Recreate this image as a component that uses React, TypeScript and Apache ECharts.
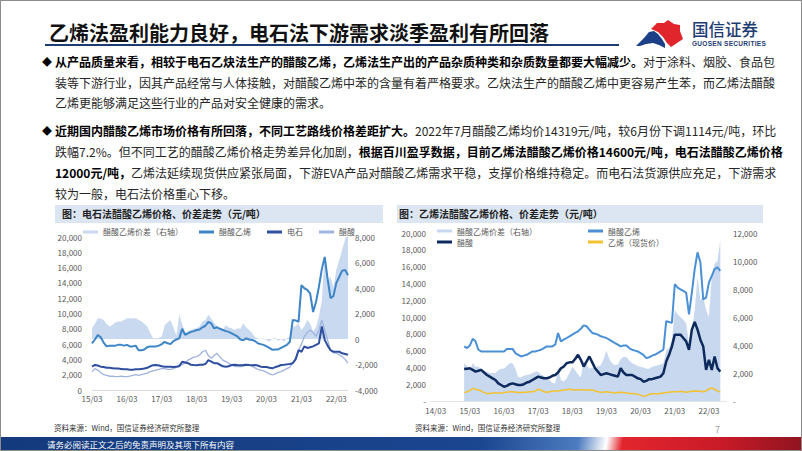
import React, { useEffect, useRef } from 'react';
import * as echarts from 'echarts';

const FONT = '"Noto Sans CJK SC", "Noto Sans", sans-serif';

function monthRange(start: string, end: string): string[] {
  const out: string[] = [];
  let [y, m] = start.split('-').map(Number);
  const [ey, em] = end.split('-').map(Number);
  while (y < ey || (y === ey && m <= em)) {
    out.push(`${y}-${String(m).padStart(2, '0')}`);
    m += 1;
    if (m > 12) { m = 1; y += 1; }
  }
  return out;
}

// ---------- Left chart (电石法) : monthly 2015-03 .. 2022-07 ----------
const leftMonths = monthRange('2015-03', '2022-07');
const leftNames = ['醋酸乙烯价差（右轴）', '醋酸乙烯', '电石', '醋酸'];
const leftSpread = [
  840, 1200, 1630, 1600, 1500, 1200, 975, 1100, 1300, 1370,
  1370, 1500, 1630, 1630, 1600, 1630, 1500, 1400, 1200, 975, 500, 50,
  50, 100, 200, 1100, 1300, 1500, 900, 260, 1900, 1200, 500, 600,
  700, 800, 840, 1000, 1370, 1500, 1900, 1600, 1240, 1000, 800, 700,
  1100, 900, 840, 700, 840, 800, 1240, 900, 700, 500, 130, 50,
  0, 50, -100, -200, 0, 100, -150, 0, -200, 50, 130, 975,
  1000, 1240, 700, 1000, 1500, 1200, 600, 900, 1770, 3000, 6600, 4500,
  4900, 4000, 5450, 6200, 7000, 7800, 8500,
];
const leftVac = [
  6100, 6600, 7200, 6900, 6200, 5700, 5800, 5800, 5800, 5900,
  5900, 5800, 5900, 5700, 5700, 5800, 5200, 5200, 5300, 5600, 5700, 5700,
  5700, 5800, 6000, 6300, 6100, 6000, 6400, 6600, 6750, 8000, 7200, 7400,
  7600, 7700, 7850, 7900, 8200, 8400, 8900, 8700, 8050, 8200, 8000, 7850,
  7700, 7600, 7400, 7200, 7000, 6600, 6500, 6750, 6600, 6550, 6400, 6100,
  6000, 5900, 5700, 5500, 5250, 5300, 5300, 5500, 5700, 5900, 6300, 9150,
  9100, 8900, 13700, 13300, 13100, 12600, 10200, 11500, 13500, 15800, 17400, 14500,
  12000, 12300, 14000, 14800, 15600, 15700, 15000,
];
const leftCarbide = [
  3050, 3270, 3200, 3050, 3000, 2900, 2900, 2850, 2800, 2800,
  2750, 2700, 2700, 2650, 2650, 2700, 2700, 2750, 2800, 2900, 3100, 3250,
  3270, 3200, 3100, 3050, 3050, 3050, 3000, 3050, 3100, 3700, 3600, 3500,
  3300, 3270, 3250, 3300, 3300, 3400, 3900, 3700, 3500, 3500, 3300, 3100,
  3050, 3100, 3270, 3300, 3270, 3250, 3270, 3300, 3270, 3250, 3270, 3200,
  3050, 3000, 3000, 2900, 2830, 3000, 3100, 3270, 3300, 3350, 3400, 3500,
  4000, 5200, 5000, 5700, 5500, 5600, 5700, 5900, 6100, 8300, 6550, 5800,
  5200, 5000, 5000, 5000, 4800, 4700, 4600,
];
const leftAcetic = [
  2400, 2800, 2600, 2300, 2000, 1900, 1800, 1800, 1750, 1750,
  1800, 1750, 1750, 1800, 1900, 2000, 1900, 2000, 2100, 2200, 2400, 2500,
  2600, 2700, 2830, 2800, 2700, 2700, 2800, 3000, 3270, 3300, 3600, 3900,
  4100, 4300, 4360, 4600, 5000, 5200, 4500, 4140, 4500, 4800, 4300, 3900,
  3700, 3500, 3270, 3100, 3050, 3050, 3100, 3270, 3270, 3100, 2900, 2700,
  2600, 2500, 2300, 2100, 1960, 2100, 2300, 2400, 2600, 2800, 3000, 3500,
  4200, 5200, 6000, 7000, 7500, 7850, 7500, 7000, 7800, 9150, 7850, 6500,
  5200, 4900, 4800, 4600, 4360, 4000, 3500,
];

// ---------- Right chart (乙烯法) : axis 2014-01 .. 2022-09, data 2015-01 .. 2022-07 ----------
const rightMonths = monthRange('2014-01', '2022-09');
const rightDataStart = '2015-01';
const rightNames = ['醋酸乙烯价差（右轴）', '醋酸', '醋酸乙烯', '乙烯（现货价）'];
const rightSpread = [
  2700, 2500, 2200, 2700, 2450, 2450, 2300, 2100, 2100, 2000, 2000, 2000,
  2200, 2300, 2300, 2500, 2700, 2700, 2300, 1700, 1700, 1800, 1850, 1900,
  2000, 2100, 2100, 1900, 1800, 1600, 1500, 1300, 1250, 2400, 1500, 1400,
  1600, 2000, 2450, 2200, 1900, 1700, 2900, 2600, 2300, 2400, 2300, 2500,
  2550, 3000, 3600, 3000, 2700, 2550, 2600, 3000, 3150, 3150, 2900, 2700,
  2600, 2500, 2450, 2400, 2300, 2300, 2450, 2500, 2550, 2600, 2700, 3600,
  3800, 4350, 6500, 6200, 6000, 5800, 5550, 4100, 5050, 6500, 8900, 7200,
  7450, 6500, 6000, 8900, 9800, 10000, 11500,
];
const rightVac = [
  6500, 6300, 6600, 7400, 7100, 6100, 5900, 5900, 5900, 5900, 5900, 5900,
  5900, 5900, 5900, 6200, 6200, 6200, 5700, 5500, 5300, 5400, 5500, 5700,
  5900, 5900, 6000, 6100, 6300, 6500, 6500, 6500, 6700, 8100, 7100, 7300,
  7500, 7700, 7900, 8100, 8300, 8600, 9000, 8900, 8500, 8100, 8000, 7900,
  7700, 7600, 7500, 7300, 7100, 6900, 6700, 6500, 6600, 6600, 6300, 6100,
  6000, 5900, 5700, 5500, 5100, 5200, 5400, 5500, 5700, 5900, 6100, 9500,
  9400, 9300, 13900, 13500, 13300, 13100, 12900, 10300, 12900, 15700, 17700, 16500,
  12100, 12300, 14100, 14900, 15700, 15900, 15500,
];
const rightAcetic = [
  3800, 3850, 3900, 3700, 3500, 3600, 3700, 3400, 3100, 2900, 2700, 2500,
  2100, 1900, 1700, 1800, 2000, 2100, 2000, 1900, 1900, 2000, 2200, 2300,
  2500, 2700, 2900, 2800, 2700, 2700, 2800, 3000, 3100, 3400, 3900, 4100,
  4500, 4600, 4600, 5000, 5500, 4900, 4100, 4700, 5300, 4600, 3900, 3500,
  3100, 3200, 3300, 3200, 3100, 3000, 2900, 3900, 3400, 3100, 3100, 3100,
  2900, 2700, 2600, 2300, 2400, 2600, 2600, 2700, 2800, 2900, 3300, 4700,
  5500, 6500, 7900, 7900, 7900, 7500, 7100, 6100, 8500, 9400, 8500, 7300,
  6500, 3700, 4900, 3700, 5300, 3900, 3500,
];
const rightEthylene = [
  1000, 1100, 1230, 1500, 1400, 1300, 1200, 1000, 900, 900, 950, 950,
  950, 950, 1000, 1050, 1100, 1100, 1050, 1000, 1000, 1050, 1050, 1100,
  1100, 1200, 1400, 1300, 1100, 1050, 1100, 1150, 1200, 1200, 1250, 1300,
  1350, 1400, 1350, 1300, 1350, 1350, 1300, 1300, 1350, 1300, 1200, 1100,
  1050, 1050, 1100, 1050, 1000, 950, 1000, 1050, 1000, 950, 900, 900,
  850, 800, 700, 550, 600, 800, 850, 850, 850, 900, 950, 1000,
  1050, 1100, 1100, 1100, 1150, 1100, 1050, 1100, 1150, 1200, 1150, 1150,
  1100, 1200, 1450, 1550, 1400, 1200, 1050,
];

function alignRight(values: number[]): (number | null)[] {
  const startIdx = rightMonths.indexOf(rightDataStart);
  const out: (number | null)[] = rightMonths.map(() => null);
  values.forEach((v, i) => { out[startIdx + i] = v; });
  return out;
}

const LABEL_COLOR = '#595959';
const fmt = (zeroText: string) => (v: number) => (v === 0 ? zeroText : v.toLocaleString('en-US'));
const xLabel = {
  interval: (_i: number, v: string) => v.endsWith('-03'),
  formatter: (v: string) => `${v.slice(2, 4)}/${v.slice(5)}`,
  fontSize: 8,
  color: LABEL_COLOR,
  fontFamily: FONT,
};

const leftOption = {
  animation: false,
  textStyle: { fontFamily: FONT },
  grid: { left: 92, right: 52, top: 37, bottom: 40 },
  legend: {
    left: 83, top: 28, padding: 0, itemWidth: 15, itemHeight: 3, itemGap: 16, icon: 'rect',
    textStyle: { fontSize: 8, color: LABEL_COLOR, fontFamily: FONT },
    data: leftNames,
  },
  xAxis: {
    type: 'category', data: leftMonths, boundaryGap: false,
    axisLine: { lineStyle: { color: '#d9d9d9' } }, axisTick: { show: false },
    axisLabel: { ...xLabel, margin: 4 },
  },
  yAxis: [
    { type: 'value', min: 0, max: 20000, interval: 2000, splitLine: { show: false },
      axisLine: { show: false }, axisTick: { show: false },
      axisLabel: { formatter: fmt('0'), fontSize: 8, color: LABEL_COLOR, margin: 10, fontFamily: FONT } },
    { type: 'value', min: -4000, max: 8000, interval: 2000, position: 'right', splitLine: { show: false },
      axisLine: { show: false }, axisTick: { show: false },
      axisLabel: { formatter: fmt('0'), fontSize: 8, color: LABEL_COLOR, margin: 7, fontFamily: FONT } },
  ],
  series: [
    { name: leftNames[0], type: 'line', yAxisIndex: 1, data: leftSpread, symbol: 'none',
      itemStyle: { color: '#c9d9ef' }, lineStyle: { width: 0, color: '#c9d9ef' }, areaStyle: { color: '#c9d9ef', opacity: 1 } },
    { name: leftNames[3], type: 'line', data: leftAcetic, symbol: 'none',
      itemStyle: { color: '#9fb3de' }, lineStyle: { width: 1.3, color: '#9fb3de' } },
    { name: leftNames[2], type: 'line', data: leftCarbide, symbol: 'none',
      itemStyle: { color: '#2e4f9e' }, lineStyle: { width: 2, color: '#2e4f9e' } },
    { name: leftNames[1], type: 'line', data: leftVac, symbol: 'none',
      itemStyle: { color: '#3d85c6' }, lineStyle: { width: 2, color: '#3d85c6' } },
  ],
};

const legendCommon = {
  padding: 0, orient: 'vertical', itemWidth: 15, itemHeight: 3, itemGap: 1, icon: 'rect',
  textStyle: { fontSize: 8, lineHeight: 10, color: LABEL_COLOR, fontFamily: FONT },
};

const rightOption = {
  animation: false,
  textStyle: { fontFamily: FONT },
  grid: { left: 35, right: 76, top: 33, bottom: 29 },
  legend: [
    { ...legendCommon, left: 42, top: 26, data: [rightNames[0], rightNames[1]] },
    { ...legendCommon, left: 193, top: 26, data: [rightNames[2], rightNames[3]] },
  ],
  xAxis: {
    type: 'category', data: rightMonths, boundaryGap: false,
    axisLine: { lineStyle: { color: '#e3e3e3' } }, axisTick: { show: false },
    axisLabel: { ...xLabel, margin: 5 },
  },
  yAxis: [
    { type: 'value', min: 0, max: 20000, interval: 2000, splitLine: { show: false },
      axisLine: { show: false }, axisTick: { show: false },
      axisLabel: { formatter: fmt('-'), fontSize: 8, color: LABEL_COLOR, margin: 4, fontFamily: FONT } },
    { type: 'value', min: 0, max: 12000, interval: 2000, position: 'right', splitLine: { show: false },
      axisLine: { show: false }, axisTick: { show: false },
      axisLabel: { formatter: fmt('-'), fontSize: 8, color: LABEL_COLOR, margin: 7, fontFamily: FONT } },
  ],
  series: [
    { name: rightNames[0], type: 'line', yAxisIndex: 1, data: alignRight(rightSpread), symbol: 'none',
      itemStyle: { color: '#c8d8ee' }, lineStyle: { width: 0, color: '#c8d8ee' }, areaStyle: { color: '#c8d8ee', opacity: 1 } },
    { name: rightNames[3], type: 'line', data: alignRight(rightEthylene), symbol: 'none',
      itemStyle: { color: '#f2c230' }, lineStyle: { width: 1.5, color: '#f2c230' } },
    { name: rightNames[2], type: 'line', data: alignRight(rightVac), symbol: 'none',
      itemStyle: { color: '#4a90d6' }, lineStyle: { width: 2, color: '#4a90d6' } },
    { name: rightNames[1], type: 'line', data: alignRight(rightAcetic), symbol: 'none',
      itemStyle: { color: '#0e2a5c' }, lineStyle: { width: 2.5, color: '#0e2a5c' } },
  ],
};

const abs = (s: React.CSSProperties): React.CSSProperties => ({ position: 'absolute', ...s });

function TextLine({ top, justify, children }: { top: number; justify?: boolean; children: React.ReactNode }) {
  return (
    <div style={abs({
      left: 55, top, width: 702, fontSize: 12, lineHeight: '16px', whiteSpace: 'nowrap', color: '#262626',
      textAlign: justify ? 'justify' : 'left', textAlignLast: justify ? 'justify' : 'left',
    } as React.CSSProperties)}>{children}</div>
  );
}

const B = ({ children }: { children: React.ReactNode }) => <b style={{ fontWeight: 700, color: '#000' }}>{children}</b>;

export default function App() {
  const leftRef = useRef<HTMLDivElement>(null);
  const rightRef = useRef<HTMLDivElement>(null);

  useEffect(() => {
    const c1 = echarts.init(leftRef.current!, undefined, { renderer: 'svg' });
    c1.setOption(leftOption as any);
    const c2 = echarts.init(rightRef.current!, undefined, { renderer: 'svg' });
    c2.setOption(rightOption as any);
    return () => { c1.dispose(); c2.dispose(); };
  }, []);

  return (
    <div style={{ position: 'fixed', left: 0, top: 0, width: 802, height: 451, background: '#fff', overflow: 'hidden', fontFamily: FONT }}>
      {/* Title */}
      <div style={abs({ left: 49, top: 21, fontSize: 20, lineHeight: '24px', fontWeight: 700, color: '#111', whiteSpace: 'nowrap' })}>
        乙烯法盈利能力良好，电石法下游需求淡季盈利有所回落
      </div>
      <div style={abs({ left: 45, top: 44, width: 574, height: 2, background: '#1f3b73' })} />

      {/* Logo */}
      <svg style={abs({ left: 636, top: 19, width: 50, height: 30 })} viewBox="0 0 50 30">
        <polygon points="15,10 21,4 28,4 32,1 38,5 44,6 44,12 47,20 41,24 35,28 31,24 27,18 22,13" fill="#e0262c" />
        <polygon points="0,27 8,19 13,13 18,12 22,15 26,20 29,25 29,29 23,26 17,24 10,25 4,27" fill="#1d3f86" />
      </svg>
      <div style={abs({ left: 692, top: 21, fontSize: 16.5, lineHeight: '17px', color: '#1d3c72', fontWeight: 500, whiteSpace: 'nowrap' })}>国信证券</div>
      <div style={abs({ left: 692, top: 40, fontSize: 6.5, lineHeight: '7px', color: '#1d3c72', fontWeight: 700, letterSpacing: 0.3, whiteSpace: 'nowrap', fontFamily: '"Liberation Sans", Arial, sans-serif' })}>GUOSEN SECURITIES</div>

      {/* Bullet 1 */}
      <div style={abs({ left: 42, top: 55, fontSize: 10, lineHeight: '14px', color: '#000' })}>◆</div>
      <TextLine top={54} justify>
        <B>从产品质量来看，相较于电石乙炔法生产的醋酸乙烯，乙烯法生产出的产品杂质种类和杂质数量都要大幅减少。</B>对于涂料、烟胶、食品包
      </TextLine>
      <TextLine top={74.5} justify>
        装等下游行业，因其产品经常与人体接触，对醋酸乙烯中苯的含量有着严格要求。乙炔法生产的醋酸乙烯中更容易产生苯，而乙烯法醋酸
      </TextLine>
      <TextLine top={94.5}>乙烯更能够满足这些行业的产品对安全健康的需求。</TextLine>

      {/* Bullet 2 */}
      <div style={abs({ left: 42, top: 124, fontSize: 10, lineHeight: '14px', color: '#000' })}>◆</div>
      <TextLine top={123} justify>
        <B>近期国内醋酸乙烯市场价格有所回落，不同工艺路线价格差距扩大。</B>2022年7月醋酸乙烯均价14319元/吨，较6月份下调1114元/吨，环比
      </TextLine>
      <TextLine top={144} justify>
        跌幅7.2%。但不同工艺的醋酸乙烯价格走势差异化加剧，<B>根据百川盈孚数据，目前乙烯法醋酸乙烯价格14600元/吨，电石法醋酸乙烯价格</B>
      </TextLine>
      <TextLine top={164.5} justify>
        <B>12000元/吨，</B>乙烯法延续现货供应紧张局面，下游EVA产品对醋酸乙烯需求平稳，支撑价格维持稳定。而电石法货源供应充足，下游需求
      </TextLine>
      <TextLine top={186}>较为一般，电石法价格重心下移。</TextLine>

      {/* Caption boxes */}
      <div style={abs({ left: 55, top: 205, width: 328, height: 18, background: '#dce6f2' })} />
      <div style={abs({ left: 62, top: 207, fontSize: 10, lineHeight: '14px', fontWeight: 700, color: '#222', whiteSpace: 'nowrap' })}>图：电石法醋酸乙烯价格、价差走势（元/吨）</div>
      <div style={abs({ left: 397, top: 205, width: 366, height: 18, background: '#dce6f2' })} />
      <div style={abs({ left: 399, top: 207, fontSize: 10, lineHeight: '14px', fontWeight: 700, color: '#222', whiteSpace: 'nowrap' })}>图：乙烯法醋酸乙烯价格、价差走势（元/吨）</div>

      {/* Charts */}
      <div ref={leftRef} style={abs({ left: 0, top: 200, width: 400, height: 230 })} />
      <div ref={rightRef} style={abs({ left: 395, top: 200, width: 407, height: 230 })} />

      {/* Sources */}
      <div style={abs({ left: 54, top: 423, fontSize: 7.5, lineHeight: '10px', color: '#333', whiteSpace: 'nowrap' })}>资料来源：Wind，国信证券经济研究所整理</div>
      <div style={abs({ left: 415, top: 423, fontSize: 7.5, lineHeight: '10px', color: '#333', whiteSpace: 'nowrap' })}>资料来源：Wind，国信证券经济研究所整理</div>
      <div style={abs({ left: 715, top: 424, fontSize: 9, lineHeight: '12px', color: '#9a9a9a' })}>7</div>

      {/* Footer */}
      <div style={abs({ left: 0, top: 437, width: 802, height: 14, background: 'linear-gradient(100deg, #133a7c 0%, #1b4690 60%, #4d7cc0 72%, #ffffff 75.5%, #e3262e 77.5%, #c81a28 90%, #8e1420 100%)' })} />
      <div style={abs({ left: 47, top: 438, fontSize: 8.5, lineHeight: '12px', color: '#fff', whiteSpace: 'nowrap' })}>请务必阅读正文之后的免责声明及其项下所有内容</div>

      {/* Slide border */}
      <div style={abs({ left: 0, top: 0, width: 802, height: 451, boxSizing: 'border-box', border: '1px solid #8c8c8c', pointerEvents: 'none' })} />
    </div>
  );
}
